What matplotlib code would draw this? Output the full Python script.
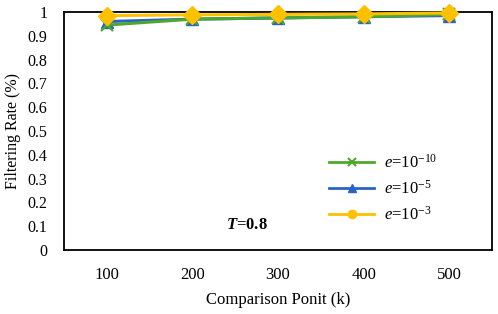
import matplotlib
matplotlib.use("Agg")
import matplotlib.pyplot as plt
from matplotlib.lines import Line2D

categories = ["100", "200", "300", "400", "500"]
green_vals = [0.945, 0.970, 0.975, 0.980, 0.990]
blue_vals = [0.960, 0.970, 0.975, 0.980, 0.985]
yellow_vals = [0.985, 0.988, 0.990, 0.992, 0.996]
yticks = [0, 0.1, 0.2, 0.3, 0.4, 0.5, 0.6, 0.7, 0.8, 0.9, 1]
ytick_labels = ["0", "0.1", "0.2", "0.3", "0.4", "0.5", "0.6", "0.7", "0.8", "0.9", "1"]
series_labels = [r"$e$=10$^{-10}$", r"$e$=10$^{-5}$", r"$e$=10$^{-3}$"]

plt.rcParams['font.family'] = ['Liberation Serif', 'DejaVu Serif']
plt.rcParams['mathtext.fontset'] = 'custom'
plt.rcParams['mathtext.rm'] = 'Liberation Serif'
plt.rcParams['mathtext.it'] = 'Liberation Serif:italic'
plt.rcParams['mathtext.bf'] = 'Liberation Serif:bold'
plt.rcParams['mathtext.bfit'] = 'Liberation Serif:bold:italic'

GREEN, BLUE, YELLOW = "#4ea72e", "#2a63c4", "#ffc000"

fig = plt.figure(figsize=(4.98, 3.14), dpi=100)
ax = fig.add_axes([64/498, 1-250/314, (492-64)/498, (250-12)/314])
x = list(range(len(categories)))
ax.plot(x, green_vals, color=GREEN, marker="x", markersize=9, lw=2.2, mew=1.6, zorder=3, clip_on=False)
ax.plot(x, blue_vals, color=BLUE, marker="^", markersize=9, lw=2.2, zorder=2, clip_on=False)
ax.plot(x, yellow_vals, color=YELLOW, marker="D", markersize=9, lw=2.2, zorder=4, clip_on=False)
ax.set_xlim(-0.5, len(categories)-0.5)
ax.set_ylim(0, 1)
ax.set_xticks(x)
ax.set_xticklabels(categories, fontsize=12)
ax.set_yticks(yticks)
ax.set_yticklabels(ytick_labels, fontsize=11.5)
ax.tick_params(axis='both', length=0)
ax.tick_params(axis='x', pad=12)
ax.tick_params(axis='y', pad=12)
for s in ax.spines.values():
    s.set_color("black")
    s.set_linewidth(1.3)
ax.set_ylabel("Filtering Rate (%)", fontsize=11.5)
ax.set_xlabel("Comparison Ponit (k)", fontsize=12)
ax.yaxis.set_label_coords(-0.1, 0.5)
ax.xaxis.set_label_coords(0.5, -0.175)
ax.text(0.378, 0.09, r"$\boldsymbol{T}$=0.8", transform=ax.transAxes, fontsize=12, fontweight="bold")

handles = [
    Line2D([], [], color=GREEN, marker="x", markersize=6, lw=2, mew=1.5),
    Line2D([], [], color=BLUE, marker="^", markersize=6, lw=2),
    Line2D([], [], color=YELLOW, marker="o", markersize=6, lw=2),
]
ax.legend(handles=handles, labels=series_labels, loc="upper left", bbox_to_anchor=(0.6, 0.44),
          frameon=False, fontsize=12, handlelength=2.7, labelspacing=0.5, handletextpad=0.6,
          borderpad=0)
fig.savefig("out.png", dpi=100)
